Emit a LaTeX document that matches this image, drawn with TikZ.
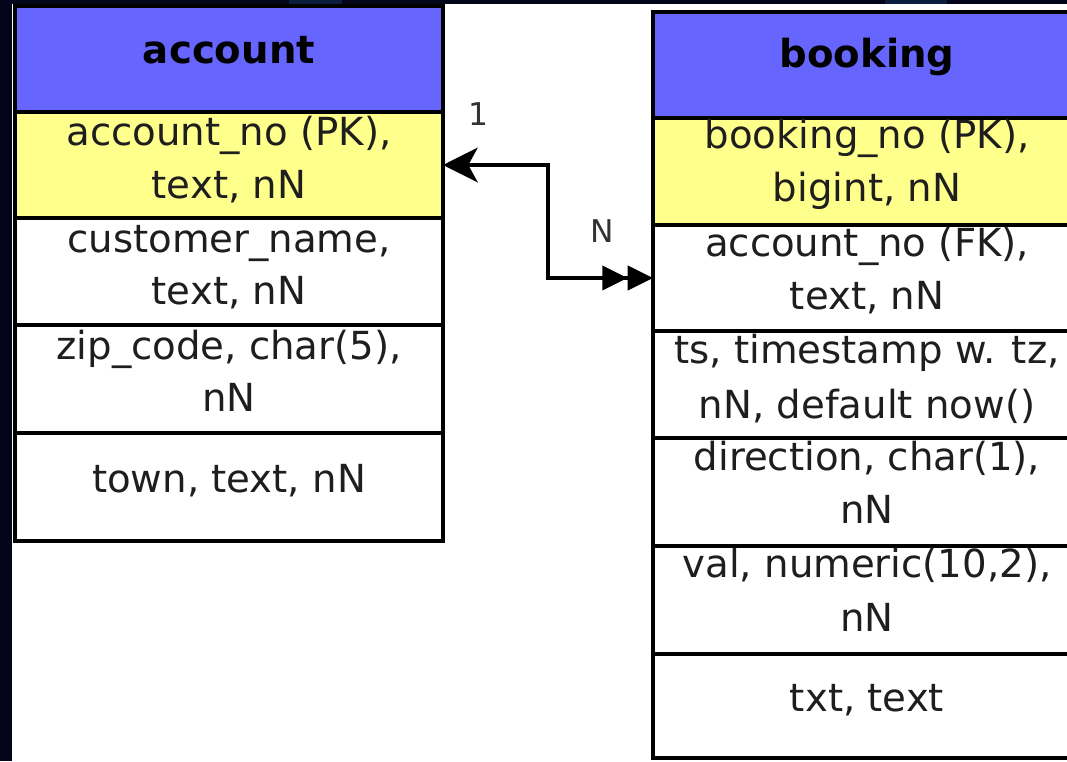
\documentclass[tikz,border=0pt]{standalone}
\usepackage{fontspec}
\setmainfont{DejaVu Sans}
\usetikzlibrary{fit,arrows.meta}
\definecolor{navy}{HTML}{04041A}
\definecolor{navylight}{HTML}{0A1E3C}
\definecolor{hdrblue}{HTML}{6666FF}
\definecolor{pkyellow}{HTML}{FFFF8C}
\definecolor{txtgray}{HTML}{1E1E1E}
\definecolor{lblgray}{HTML}{333333}
\begin{document}
\begin{tikzpicture}[x=0.75pt,y=-0.75pt,
  tbox/.style={draw=black, line width=3pt, inner sep=0pt, outer sep=0pt, line join=miter},
  hdrbox/.style={tbox, fill=hdrblue},
  pkbox/.style={tbox, fill=pkyellow},
  colbox/.style={tbox, fill=white},
  hdrtext/.style={anchor=base, font=\fontsize{29}{34}\selectfont\bfseries, text=black, inner sep=0pt},
  coltext/.style={anchor=base, font=\fontsize{29}{34}\selectfont, text=txtgray, inner sep=0pt},
  card/.style={anchor=base, font=\fontsize{23.5}{28}\selectfont, text=lblgray, inner sep=0pt},
  rel/.style={line width=3pt, line join=miter}
]
\useasboundingbox (0,0) rectangle (1067,761);
\clip (0,0) rectangle (1067,761);
% background
\fill[navy] (0,0) rectangle (1067,761);
\fill[white] (12,3.5) rectangle (1067,761);
\fill[navylight] (289,0) rectangle (342,3.5);
\fill[navylight] (885,0) rectangle (947,3.5);

% account table
\node[hdrbox, fit={(15,6) (443,112)}] (ahdr) {};
\node[pkbox, fit={(15,112) (443,218)}] (apk) {};
\node[colbox, fit={(15,218) (443,325)}] (acust) {};
\node[colbox, fit={(15,325) (443,433)}] (azip) {};
\node[colbox, fit={(15,433) (443,541)}] (atown) {};

\node[hdrtext] (ahdrt) at (229,63) {account};
\node[coltext] (apk1) at (229,145) {account\_no (PK),};
\node[coltext] (apk2) at (229,198) {text, nN};
\node[coltext] (acust1) at (229,252) {customer\_name,};
\node[coltext] (acust2) at (229,304) {text, nN};
\node[coltext] (azip1) at (229,359) {zip\_code, char(5),};
\node[coltext] (azip2) at (229,411) {nN};
\node[coltext] (atown1) at (229,492) {town, text, nN};

% booking table
\node[hdrbox, fit={(653,11.5) (1081,118)}] (bhdr) {};
\node[pkbox, fit={(653,118) (1081,225)}] (bpk) {};
\node[colbox, fit={(653,225) (1081,331)}] (bfk) {};
\node[colbox, fit={(653,331) (1081,438)}] (bts) {};
\node[colbox, fit={(653,438) (1081,546)}] (bdir) {};
\node[colbox, fit={(653,546) (1081,654)}] (bval) {};
\node[colbox, fit={(653,654) (1081,758)}] (btxt) {};

\node[hdrtext] (bhdrt) at (867,67) {booking};
\node[coltext] (bpk1) at (867,148) {booking\_no (PK),};
\node[coltext] (bpk2) at (867,201) {bigint, nN};
\node[coltext] (bfk1) at (867,256) {account\_no (FK),};
\node[coltext] (bfk2) at (867,309) {text, nN};
\node[coltext] (bts1) at (867,363) {ts, timestamp w. tz,};
\node[coltext] (bts2) at (867,418) {nN, default now()};
\node[coltext] (bdir1) at (867,470) {direction, char(1),};
\node[coltext] (bdir2) at (867,523) {nN};
\node[coltext] (bval1) at (867,577) {val, numeric(10,2),};
\node[coltext] (bval2) at (867,631) {nN};
\node[coltext] (btxt1) at (867,711) {txt, text};

% relationship
\draw[rel, {Stealth[length=26pt,width=26pt,inset=7pt]}-{Triangle[length=19pt,width=18pt,sep=0pt]Triangle[length=19pt,width=18pt,sep=0pt]}]
  (apk.east) -- ++(105,0) |- (bfk.west);
\node[card] (one) at (478,125) {1};
\node[card] (many) at (602,242) {N};
\end{tikzpicture}
\end{document}
